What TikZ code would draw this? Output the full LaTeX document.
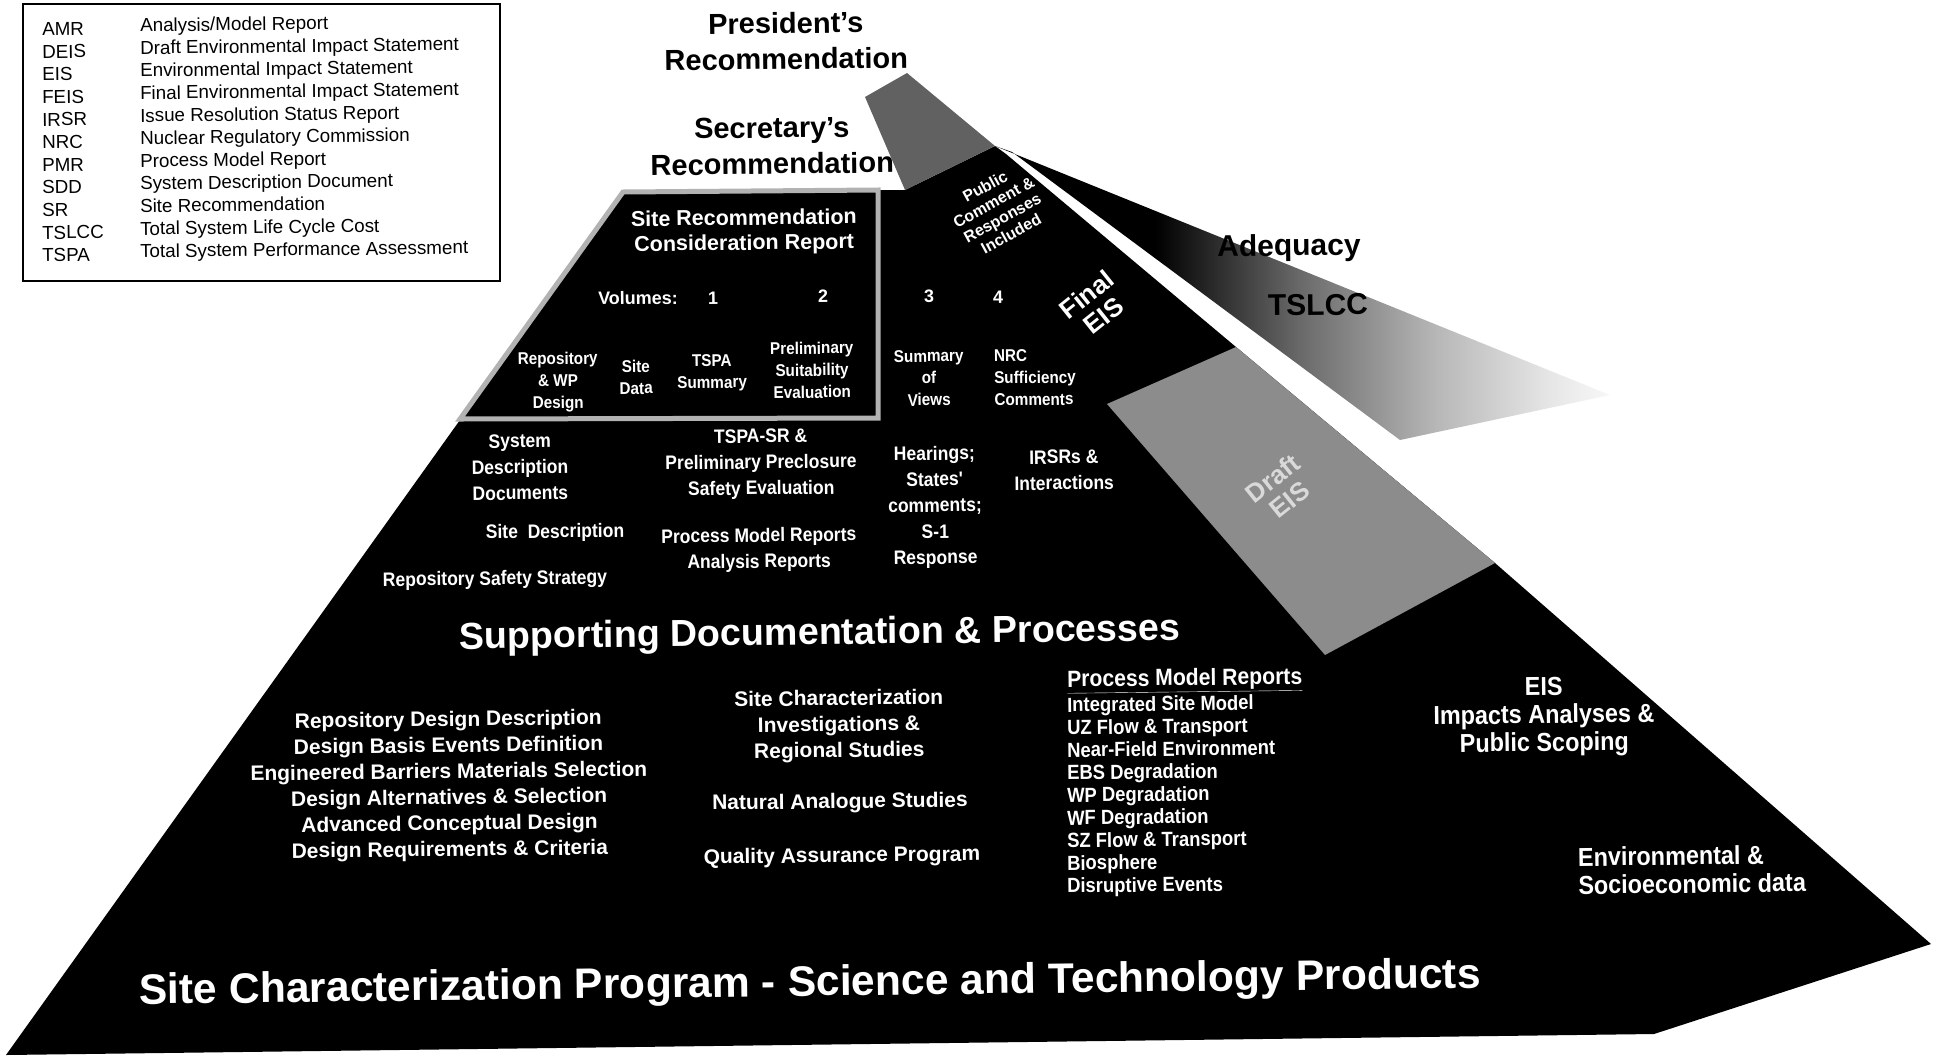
\documentclass[tikz,border=0pt]{standalone}
\usepackage{fontspec}
\setmainfont{Liberation Sans}
\newfontfamily\narrowsf{Liberation Sans}[FakeStretch=0.9]
\usepackage{xcolor}
\usepackage{tikz}
\pgfdeclarehorizontalshading{fanfade}{100bp}{color(0bp)=(black); color(38bp)=(black); color(50bp)=(black!58); color(61bp)=(black!28); color(70bp)=(black!10); color(77bp)=(white); color(100bp)=(white)}

\begin{document}
\begin{tikzpicture}[
			     x=1pt, y=-1pt,
			     every node/.append style={rotate=0.7},
			     legend text/.style={anchor=west, inner sep=0pt, text height=13pt, text depth=3.5pt, font=\fontsize{18.8}{21}\selectfont},
			     heading/.style={align=center, inner sep=0pt, font=\bfseries\fontsize{29}{36}\selectfont},
			     plain white/.style={text=white, inner sep=0pt, align=center},
			     narrow/.style={plain white, font=\narrowsf\bfseries\fontsize{19.5}{26}\selectfont},
			     small narrow/.style={plain white, font=\narrowsf\bfseries\fontsize{17}{22}\selectfont},
			     wide/.style={plain white, font=\bfseries\fontsize{21}{26}\selectfont},
			     big title/.style={plain white, font=\bfseries\fontsize{37.6}{44}\selectfont},
			     slanted/.style={plain white, font=\bfseries\fontsize{26}{27}\selectfont, rotate=38},
			     fan text/.style={inner sep=0pt, font=\bfseries\fontsize{30}{32}\selectfont},
			     pmr item/.style={plain white, anchor=west, text height=14pt, text depth=4pt, font=\narrowsf\bfseries\fontsize{20.5}{22.6}\selectfont},
			     gray band/.style={fill=black!62},
			     rim/.style={draw=black!30, line width=5pt}
			     ]
\useasboundingbox (0,0) rectangle (1935,1058);

% legend
\draw[line width=2.5pt] (23,4) rectangle (500,281);
\foreach \abbr/\fullname [count=\i] in {AMR/{Analysis/Model Report}, DEIS/Draft Environmental Impact Statement, EIS/Environmental Impact Statement, FEIS/Final Environmental Impact Statement, IRSR/Issue Resolution Status Report, NRC/Nuclear Regulatory Commission, PMR/Process Model Report, SDD/System Description Document, SR/Site Recommendation, TSLCC/Total System Life Cycle Cost, TSPA/Total System Performance Assessment} {
	\node[legend text] (abbr\i) at (42,{31+22.6*(\i-1)}) {\abbr};
	\node[legend text] (name\i) at (140,{27+22.6*(\i-1)}) {\fullname};
}

% pyramid and fan
\fill (6,1055) -- (623,192) -- (878,190) -- (905,190) -- (995,146) -- (1006,154) -- (1236,347) -- (1495,563) -- (1931,944) -- (1654,1034) -- cycle;
\shade[shading=fanfade] (995,146) -- (1610,395) -- (1400,440) -- (1012,152) -- cycle;
\fill[gray band] (865,97) -- (907,73) -- (995,146) -- (905,190) -- cycle;
\fill[gray band, fill=black!45] (1107,404) -- (1236,347) -- (1495,563) -- (1325,655) -- cycle;
\draw[rim] (460,419) -- (623,192) -- (878,190) -- (878,418) -- cycle;

\node[heading] (pres) at (786,41) {President's\\Recommendation};
\node[heading] (secr) at (772,146) {Secretary's\\Recommendation};

% SR consideration report
\node[plain white, font=\bfseries\fontsize{21.5}{25}\selectfont] (srcr) at (744,232) {Site Recommendation\\Consideration Report};
\node[plain white, font=\bfseries\fontsize{18}{20}\selectfont] (vol) at (638,298) {Volumes:};
\node[plain white, font=\bfseries\fontsize{18}{20}\selectfont] (vol1) at (713,298) {1};
\node[plain white, font=\bfseries\fontsize{18}{20}\selectfont] (vol2) at (823,296) {2};
\node[plain white, font=\bfseries\fontsize{18}{20}\selectfont] (vol3) at (929,296) {3};
\node[plain white, font=\bfseries\fontsize{18}{20}\selectfont] (vol4) at (998,297) {4};
\node[small narrow] (repwp) at (558,382) {Repository\\\& WP\\Design};
\node[small narrow] (sitedata) at (636,377) {Site\\Data};
\node[small narrow] (tspasum) at (712,373) {TSPA\\Summary};
\node[small narrow] (prelim) at (812,370) {Preliminary\\Suitability\\Evaluation};
\node[small narrow] (views) at (929,378) {Summary\\of\\Views};
\node[small narrow, anchor=west, align=left] (nrc) at (994,378) {NRC\\Sufficiency\\Comments};
\node[plain white, rotate=28, font=\bfseries\fontsize{16}{18}\selectfont] (public) at (998,210) {Public\\Comment \&\\Responses\\Included};
\node[slanted] (feis) at (1095,305) {Final\\EIS};
\node[slanted, text=white!85!black] (deis) at (1281,489) {Draft\\EIS};
\node[fan text] (adeq) at (1289,248) {Adequacy};
\node[fan text] (tslcc) at (1318,305) {TSLCC};

% supporting documentation
\node[narrow] (sdd) at (520,467) {System\\Description\\Documents};
\node[narrow] (tspasr) at (761,464) {TSPA-SR \&\\Preliminary Preclosure\\Safety Evaluation};
\node[narrow] (hear) at (935,507) {Hearings;\\States'\\comments;\\S-1\\Response};
\node[narrow] (irsr) at (1064,470) {IRSRs \&\\Interactions};
\node[narrow] (sitedesc) at (555,533) {Site\ \ Description};
\node[narrow] (pmrar) at (759,550) {Process Model Reports\\Analysis Reports};
\node[narrow] (rss) at (495,580) {Repository Safety Strategy};
\node[big title] (supp) at (820,635) {Supporting Documentation \& Processes};

% science and technology products
\node[wide] (design) at (449,786) {Repository Design Description\\Design Basis Events Definition\\Engineered Barriers Materials Selection\\Design Alternatives \& Selection\\Advanced Conceptual Design\\Design Requirements \& Criteria};
\node[wide] (scinv) at (839,726) {Site Characterization\\Investigations \&\\Regional Studies};
\node[wide] (nas) at (840,803) {Natural Analogue Studies};
\node[wide] (qap) at (842,857) {Quality Assurance Program};
\node[pmr item, font=\narrowsf\bfseries\fontsize{23.5}{24}\selectfont] (pmrhead) at (1067,682) {\underline{Process Model Reports}};
\foreach \item [count=\i] in {Integrated Site Model, UZ Flow \& Transport, Near-Field Environment, EBS Degradation, WP Degradation, WF Degradation, SZ Flow \& Transport, Biosphere, Disruptive Events} {
	\node[pmr item] (pmr\i) at (1067,{707+22.6*(\i-1)}) {\item};
}
\node[plain white, font=\narrowsf\bfseries\fontsize{26}{28}\selectfont] (eis) at (1544,717) {EIS\\Impacts Analyses \&\\Public Scoping};
\node[plain white, anchor=west, align=left, font=\narrowsf\bfseries\fontsize{26}{28}\selectfont] (env) at (1578,871) {Environmental \&\\Socioeconomic data};
\node[plain white, font=\bfseries\fontsize{42.6}{46}\selectfont] (scp) at (810,985) {Site Characterization Program - Science and Technology Products};
\end{tikzpicture}
\end{document}
